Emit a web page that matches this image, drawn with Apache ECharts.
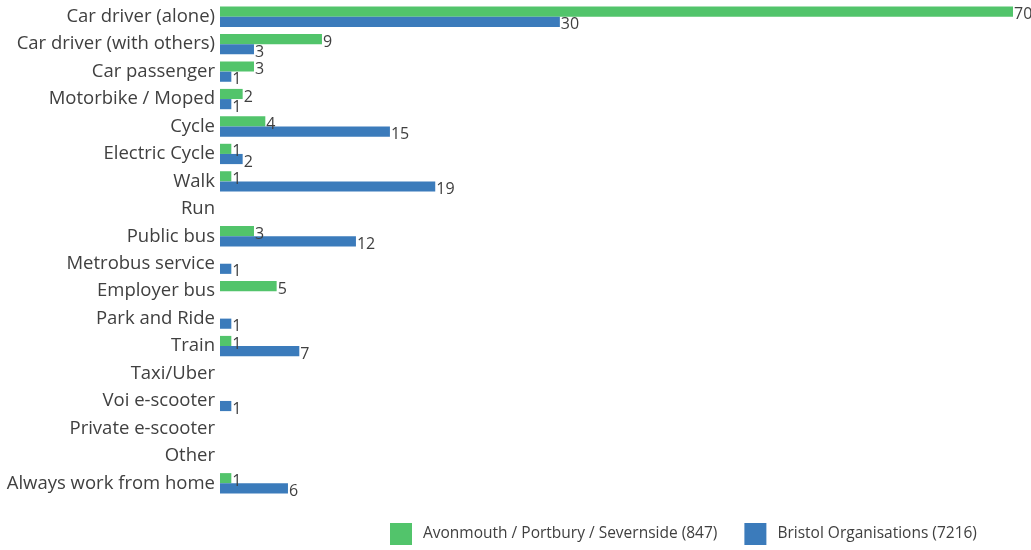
<!DOCTYPE html>
<html>
<head>
<meta charset="utf-8">
<script src="https://cdn.jsdelivr.net/npm/echarts@6/dist/echarts.min.js"></script>
<style>html,body{margin:0;padding:0;background:#fff}#c{width:1031px;height:550px}</style>
</head>
<body>
<div id="c"></div>
<script>
const categories = ["Car driver (alone)","Car driver (with others)","Car passenger","Motorbike / Moped","Cycle","Electric Cycle","Walk","Run","Public bus","Metrobus service","Employer bus","Park and Ride","Train","Taxi/Uber","Voi e-scooter","Private e-scooter","Other","Always work from home"];
const seriesNames = ["Avonmouth / Portbury / Severnside (847)","Bristol Organisations (7216)"];
const avonmouth = [70,9,3,2,4,1,1,null,3,null,5,null,1,null,null,null,null,1];
const bristol = [30,3,1,1,15,2,19,null,12,1,null,1,7,null,1,null,null,6];
const colors = ["#52c46b","#3b7bbb"];
const font = "Open Sans, sans-serif";
const chart = echarts.init(document.getElementById('c'));
const lbl = {show:true, position:'right', distance:1, color:'#404040', fontSize:16, fontFamily:font, offset:[0,3]};
chart.setOption({
  animation:false,
  grid:{left:220, right:18, top:3, bottom:53, containLabel:false},
  xAxis:{type:'value', min:0, max:70, show:false},
  yAxis:{type:'category', data:categories, inverse:true,
    axisLine:{show:false}, axisTick:{show:false},
    axisLabel:{color:'#404040', fontSize:18.5, fontFamily:font, margin:5}},
  legend:{bottom:0, left:385, icon:'rect', itemWidth:22, itemHeight:22, itemGap:27,
    textStyle:{color:'#404040', fontSize:15.5, fontFamily:font, padding:[0,0,0,6]},
    data:seriesNames},
  series:[
    {name:seriesNames[0], type:'bar', data:avonmouth, itemStyle:{color:colors[0]}, barGap:'0%', barCategoryGap:'26%', label:lbl},
    {name:seriesNames[1], type:'bar', data:bristol, itemStyle:{color:colors[1]}, barGap:'0%', barCategoryGap:'26%', label:lbl}
  ]
});
</script>
</body>
</html>
